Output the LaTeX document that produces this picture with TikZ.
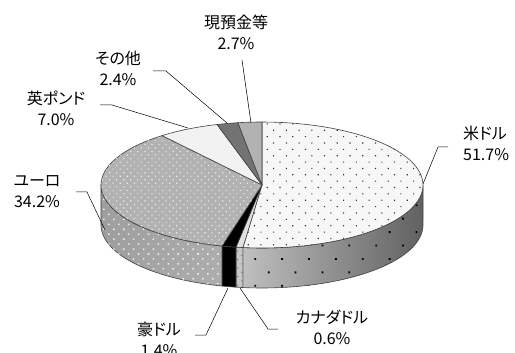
\documentclass[tikz,border=0pt]{standalone}
\usepackage{fontspec}
\setmainfont{Noto Sans CJK JP}[RawFeature=+palt]
\usepackage{tikz}
\usetikzlibrary{patterns.meta}

\def\PieX{262}
\def\PieY{185}
\def\PieA{161}
\def\PieB{63}
\def\PieH{40}
% wedge of the top face, angles clockwise from the top
\newcommand\PieTop[2]{(\PieX,\PieY) -- plot[domain=#1:#2, samples=60, variable=\t] ({\PieX+\PieA*sin(\t)},{\PieY-\PieB*cos(\t)}) -- cycle}
% outer side strip
\newcommand\PieSide[2]{plot[domain=#1:#2, samples=60, variable=\t] ({\PieX+\PieA*sin(\t)},{\PieY-\PieB*cos(\t)}) -- plot[domain=#2:#1, samples=60, variable=\t] ({\PieX+\PieA*sin(\t)},{\PieY+\PieH-\PieB*cos(\t)}) -- cycle}

\begin{document}
\begin{tikzpicture}[x=1pt,y=-1pt,
		rim/.style={draw=black!75, line width=0.6pt, line join=round},
		lead/.style={draw=black, line width=0.5pt}]
	\useasboundingbox (0,0) rectangle (515,353);

	% sides
	\path[rim, left color=black!25, right color=black!62,
		postaction={pattern={Dots[distance=19pt, angle=45, radius=1.3pt]}, pattern color=black}] \PieSide{90}{186.8};
	\path[rim, fill=black!22,
		postaction={pattern={Dots[distance=6pt, angle=45, radius=0.8pt]}, pattern color=black!60}] \PieSide{186.8}{189.3};
	\path[rim, fill=black] \PieSide{189.3}{194.4};
	\path[rim, left color=black!38, right color=black!32,
		postaction={pattern={Dots[distance=7pt, angle=45, radius=1.1pt]}, pattern color=black!8}] \PieSide{194.4}{270};

	% top face
	\path[rim, fill=black!3,
		postaction={pattern={Dots[distance=9pt, angle=45, radius=0.8pt]}, pattern color=black!80}] \PieTop{0}{186.8};
	\path[rim, fill=black!12] \PieTop{186.8}{189.3};
	\path[rim, fill=black] \PieTop{189.3}{194.4};
	\path[rim, fill=black!30,
		postaction={pattern={Dots[distance=5pt, angle=45, radius=0.8pt]}, pattern color=black!8}] \PieTop{194.4}{321.6};
	\path[rim, fill=black!5] \PieTop{321.6}{343.8};
	\path[rim, fill=black!55] \PieTop{343.8}{351.4};
	\path[rim, fill=black!30] \PieTop{351.4}{360};

	\begin{scope}[every node/.style={align=center, inner sep=0pt, font=\fontsize{16}{21}\selectfont}]
		\node (cash) at (236,32) {現預金等\\2.7\%};
		\node (oth) at (118,68) {その他\\2.4\%};
		\node (gbp) at (56,108) {英ポンド\\7.0\%};
		\node (eur) at (37,192) {ユーロ\\34.2\%};
		\node (aud) at (159,339) {豪ドル\\1.4\%};
		\node (cad) at (332,327) {カナダドル\\0.6\%};
		\node[anchor=west, align=left] (usd) at (463,143) {米ドル\\51.7\%};
	\end{scope}

	% leader lines
	\coordinate (cashA) at (242,60);  \coordinate (cashR) at (251,123);
	\coordinate (othA) at (153,71);   \coordinate (othB) at (166,71);   \coordinate (othR) at (227,123);
	\coordinate (gbpA) at (100,105);  \coordinate (gbpB) at (112,105);  \coordinate (gbpR) at (188,128);
	\coordinate (eurA) at (76,192);   \coordinate (eurB) at (87,192);   \coordinate (eurR) at (105,230);
	\coordinate (audA) at (195,335);  \coordinate (audB) at (206,335);  \coordinate (audR) at (228,288);
	\coordinate (cadA) at (278,329);  \coordinate (cadB) at (268,329);  \coordinate (cadR) at (240,288);
	\coordinate (usdA) at (448,147);  \coordinate (usdB) at (438,147);  \coordinate (usdR) at (423,184);

	\draw[lead] (cashA) -- (cashR);
	\draw[lead] (othA) -- (othB) -- (othR);
	\draw[lead] (gbpA) -- (gbpB) -- (gbpR);
	\draw[lead] (eurA) -- (eurB) -- (eurR);
	\draw[lead] (audA) -- (audB) -- (audR);
	\draw[lead] (cadA) -- (cadB) -- (cadR);
	\draw[lead] (usdA) -- (usdB) -- (usdR);
\end{tikzpicture}
\end{document}
